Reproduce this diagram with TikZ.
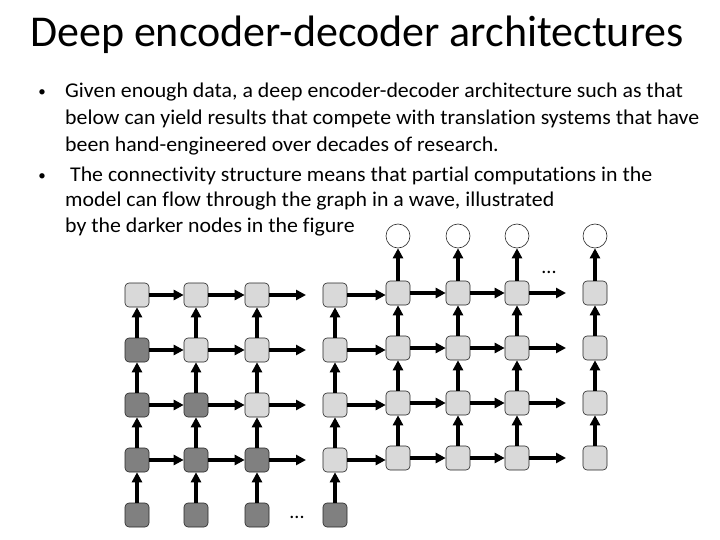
\documentclass[tikz,border=0pt]{standalone}
\usepackage{fontspec}
\setmainfont{Carlito}
\newfontfamily\bodyfont[FakeStretch=1.04, Ligatures=NoCommon]{Carlito}
\usetikzlibrary{arrows.meta}
\definecolor{lite}{HTML}{D9D9D9}
\definecolor{darkg}{HTML}{808080}
\begin{document}
\begin{tikzpicture}[x=1pt,y=-1pt,
  cell/.style={draw=black!85, line width=0.6pt, rounded corners=4pt, minimum size=24pt, inner sep=0pt, fill=lite},
  darkcell/.style={cell, fill=darkg},
  outc/.style={circle, draw=black!85, line width=0.6pt, minimum size=24pt, inner sep=0pt, fill=white},
  conn/.style={line width=3.6pt, -{Triangle[length=10pt,width=10pt]}},
  txt/.style={anchor=base west, inner sep=0pt, font=\bodyfont\fontsize{21}{24}\selectfont},
  bul/.style={anchor=base, inner sep=0pt, font=\fontsize{15}{18}\selectfont},
  dotsty/.style={anchor=base, inner sep=0pt, font=\fontsize{20}{24}\selectfont}]
\useasboundingbox (0,0) rectangle (720,540);
% title
\node[inner sep=0pt, anchor=base, font=\fontsize{44}{50}\selectfont] (title) at (357,47) {Deep encoder-decoder architectures};
% bullets
\node[bul] (b1) at (42,97) {•};
\node[txt] (l1) at (65,98) {Given enough data, a deep encoder-decoder architecture such as that};
\node[txt] (l2) at (65,125) {below can yield results that compete with translation systems that have};
\node[txt] (l3) at (65,152) {been hand-engineered over decades of research.};
\node[bul] (b2) at (42,181) {•};
\node[txt] (l4) at (65,182) {\ The connectivity structure means that partial computations in the};
\node[txt] (l5) at (65,207) {model can flow through the graph in a wave, illustrated};
\node[txt] (l6) at (65,233) {by the darker nodes in the figure};
% encoder cells
\foreach \c/\x in {1/137,2/196,3/257,4/335}{
  \foreach \r/\y in {1/295,2/350,3/405,4/460,5/515}{
    \ifnum\r>\c
      \node[darkcell] (e\c\r) at (\x,\y) {};
    \else
      \node[cell] (e\c\r) at (\x,\y) {};
    \fi
  }
}
% decoder cells
\foreach \c/\x in {5/398,6/458,7/517,8/595}{
  \foreach \r/\y in {1/293,2/348,3/403,4/458}{
    \node[cell] (d\c\r) at (\x,\y) {};
  }
  \node[outc] (o\c) at (\x,236) {};
}
% free ends
\foreach \r/\y in {1/295,2/350,3/405,4/460}{
  \coordinate (f\r) at (306,\y);
}
\foreach \r/\y in {1/293,2/348,3/403,4/458}{
  \coordinate (g\r) at (566,\y);
}
% encoder arrows
\foreach \c in {1,...,4}{
  \foreach \r/\s in {5/4,4/3,3/2,2/1}{
    \draw[conn] (e\c\r) -- (e\c\s);
  }
}
\foreach \r in {1,...,4}{
  \draw[conn] (e1\r) -- (e2\r);
  \draw[conn] (e2\r) -- (e3\r);
  \draw[conn] (e3\r) -- (f\r);
  \draw[conn] (e4\r.east) -- (e4\r.east -| d5\r.west);
}
% decoder arrows
\foreach \c in {5,...,8}{
  \foreach \r/\s in {4/3,3/2,2/1}{
    \draw[conn] (d\c\r) -- (d\c\s);
  }
  \draw[conn] (d\c1) -- (o\c);
}
\foreach \r in {1,...,4}{
  \draw[conn] (d5\r) -- (d6\r);
  \draw[conn] (d6\r) -- (d7\r);
  \draw[conn] (d7\r) -- (g\r);
}
% dots
\node[dotsty] (dotsA) at (297,518) {...};
\node[dotsty] (dotsB) at (549,273) {...};
\end{tikzpicture}
\end{document}
